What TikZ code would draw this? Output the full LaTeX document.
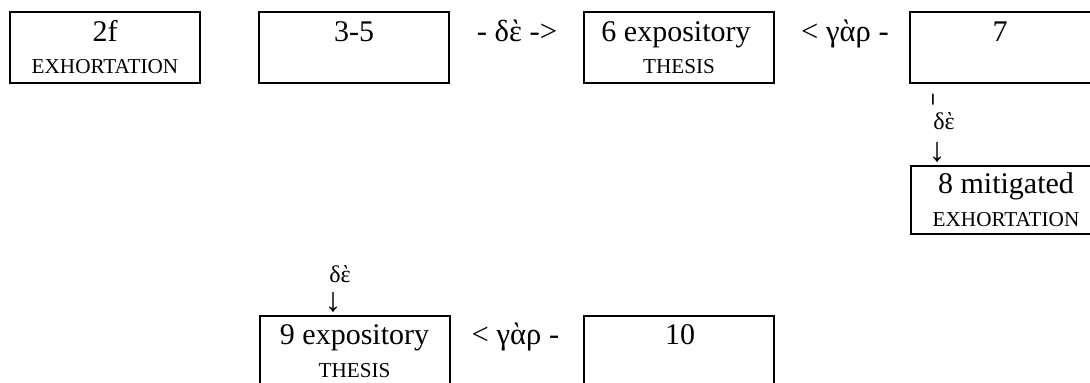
\documentclass[tikz,border=0pt]{standalone}
\usepackage{fontspec}
\setmainfont{Liberation Serif}
\tikzset{
  unitbox/.style={draw=black, line width=1pt, minimum width=95pt, minimum height=35.5pt, inner sep=0pt},
  numtext/.style={anchor=base, inner sep=0pt, font=\fontsize{15}{17}\selectfont},
  tagtext/.style={anchor=base, inner sep=0pt, font=\fontsize{10.6}{12}\selectfont},
  linktext/.style={anchor=base, inner sep=0pt, font=\fontsize{15.3}{17}\selectfont},
  vlinktext/.style={anchor=base, inner sep=0pt, font=\fontsize{12}{14}\selectfont},
  arrowtext/.style={anchor=base, inner sep=0pt, font=\fontsize{17}{18}\selectfont},
  bartext/.style={anchor=base, inner sep=0pt, font=\fontsize{6}{7}\selectfont\bfseries}
}
\begin{document}
\begin{tikzpicture}[x=0.5pt, y=-0.5pt]
\useasboundingbox (0,0) rectangle (1090,383);
\clip (0,0) rectangle (1090,383);
% top row
\node[unitbox] (b2f) at (105,47.5) {};
\node[numtext] (t2f) at (105,41.5) {2f};
\node[tagtext] (s2f) at (105,73.5) {EXHORTATION};
\node[unitbox] (b35) at (354,47.5) {};
\node[numtext] (t35) at (354,41.5) {3-5};
\node[linktext] (l35) at (517,41.5) {- δὲ ->};
\node[unitbox] (b6) at (679,47.5) {};
\node[numtext] (t6) at (676,41.5) {6 expository};
\node[tagtext] (s6) at (679,73.5) {THESIS};
\node[linktext] (l67) at (845,41.5) {< γὰρ -};
\node[unitbox] (b7) at (1005,47.5) {};
\node[numtext] (t7) at (1000,41.5) {7};
% down from 7
\node[bartext] (v7a) at (933,103) {\scalebox{2}[1]{|}};
\node[vlinktext] (v7b) at (944,130) {δὲ};
\node[arrowtext] (v7c) at (937,162) {↓};
\node[unitbox, minimum height=34pt] (b8) at (1006,200) {};
\node[numtext] (t8) at (1006,194) {8 mitigated};
\node[tagtext] (s8) at (1006,226.5) {EXHORTATION};
% bottom row
\node[vlinktext] (v9b) at (340,283) {δὲ};
\node[arrowtext] (v9c) at (333,312) {↓};
\node[unitbox] (b9) at (354.5,351.5) {};
\node[numtext] (t9) at (354.5,345) {9 expository};
\node[tagtext] (s9) at (354.5,377.5) {THESIS};
\node[linktext] (l910) at (515.5,345) {< γὰρ -};
\node[unitbox] (b10) at (678.5,351.5) {};
\node[numtext] (t10) at (680,345) {10};
\end{tikzpicture}
\end{document}
